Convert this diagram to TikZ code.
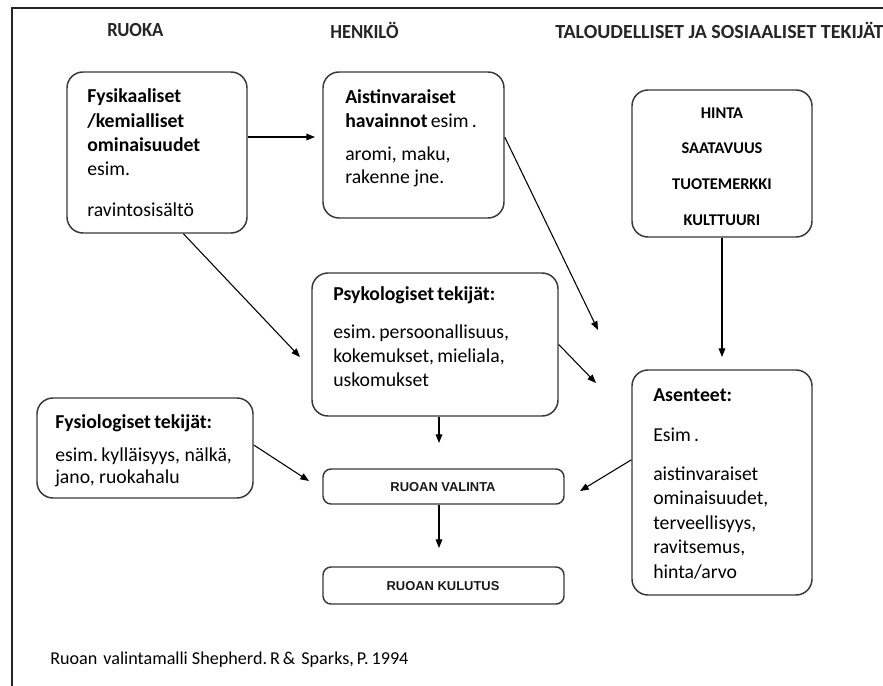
\documentclass[tikz,border=0pt]{standalone}
\usepackage{fontspec}
\setmainfont{Carlito}
\newfontfamily\arialf{Liberation Sans}
\usetikzlibrary{arrows.meta,fit}
\tikzset{
  box/.style={draw=black!78, line width=1.1pt, rounded corners=12pt, inner sep=0pt, fill=white},
  arr/.style={draw=black, line width=0.8pt, -{Triangle[length=6.5pt,width=5pt]}},
  txt/.style={anchor=west, inner sep=0pt, font=\fontsize{14.8}{18}\selectfont, text=black},
  btxt/.style={txt, font=\fontsize{14.8}{18}\selectfont\bfseries},
  head/.style={anchor=west, inner sep=0pt, font=\fontsize{15}{17}\selectfont\bfseries, text=black!85},
  ctxt/.style={inner sep=0pt, font=\fontsize{12.3}{15}\selectfont\bfseries, text=black},
  atxt/.style={inner sep=0pt, font=\arialf\fontsize{9.7}{12}\selectfont\bfseries, text=black!90}
}
\begin{document}
\frenchspacing
\begin{tikzpicture}[x=0.75pt,y=-0.75pt]
\useasboundingbox (0,0) rectangle (883,686);
\clip (0,0) rectangle (883,686);
\fill[white] (0,0) rectangle (883,686);
\draw[line width=1.3pt, black!85] (12,690) -- (12,8) -- (890,8);

% headers
\node[head] (h1) at (107,30) {\scalebox{0.93}[1]{RUOKA}};
\node[head] (h2) at (330,30) {\scalebox{0.93}[1]{HENKILÖ}};
\node[head] (h3) at (555,30) {TALOUDELLISET JA SOSIAALISET TEKIJÄT};

% boxes
\node[box, fit={(67,72) (247,233)}] (b1) {};
\node[box, fit={(323,72) (504,218)}] (b2) {};
\node[box, fit={(632,90) (812,237)}] (b3) {};
\node[box, fit={(312,273) (558,416)}] (psy) {};
\node[box, fit={(632,370) (812,595)}] (ase) {};
\node[box, fit={(37,398) (253,498)}] (fys) {};
\node[box, rounded corners=6pt, fit={(323,469) (564,504)}] (val) {};
\node[box, rounded corners=6pt, fit={(323,567) (564,604)}] (kul) {};

% box 1 text
\node[btxt] (t11) at (87,97) {Fysikaaliset};
\node[btxt] (t12) at (87,121) {/kemialliset};
\node[btxt] (t13) at (87,145) {ominaisuudet};
\node[txt] (t14) at (87,169) {esim.};
\node[txt] (t15) at (87,210) {ravintosisältö};

% box 2 text
\node[btxt] (t21) at (345,97) {Aistinvaraiset};
\node[txt] (t22) at (345,121) {\textbf{havainnot}\,esim\,.};
\node[txt] (t23) at (345,155) {aromi, maku,};
\node[txt] (t24) at (345,178) {rakenne jne.};

% box 3 text
\node[ctxt] (t31) at (722,113) {HINTA};
\node[ctxt] (t32) at (722,148) {SAATAVUUS};
\node[ctxt] (t33) at (722,184) {TUOTEMERKKI};
\node[ctxt] (t34) at (722,220) {KULTTUURI};

% psykologiset
\node[btxt] (t41) at (333,295) {Psykologiset\,tekijät:};
\node[txt] (t42) at (333,333) {esim.\,persoonallisuus,};
\node[txt] (t43) at (333,357) {kokemukset,\,mieliala,};
\node[txt] (t44) at (333,380) {uskomukset};

% asenteet
\node[btxt] (t51) at (653,395) {Asenteet:};
\node[txt] (t52) at (653,435) {Esim\,.};
\node[txt] (t53) at (653,474) {aistinvaraiset};
\node[txt] (t54) at (653,499) {ominaisuudet,};
\node[txt] (t55) at (653,524) {terveellisyys,};
\node[txt] (t56) at (653,548) {ravitsemus,};
\node[txt] (t57) at (653,572) {hinta/arvo};

% fysiologiset
\node[btxt] (t61) at (55,423) {Fysiologiset\,tekijät:};
\node[txt] (t62) at (55,456) {esim.\,kylläisyys, nälkä,};
\node[txt] (t63) at (55,478) {jano, ruokahalu};

% small boxes text
\node[atxt] (t71) at (443,487) {RUOAN VALINTA};
\node[atxt] (t72) at (443,586) {RUOAN KULUTUS};

% citation
\node[anchor=west, inner sep=0pt, font=\fontsize{13.6}{16}\selectfont, text=black] (cit) at (50,660) {Ruoan\,\,valintamalli Shepherd.\,R\,\&\,\,Sparks,\,P.\,1994};

% arrow tips (free ends)
\coordinate (e12) at (315,137);
\coordinate (e1p) at (300,357);
\coordinate (e2a) at (598,330);
\coordinate (e3a) at (722,357);
\coordinate (epa) at (596,383);
\coordinate (epv) at (439,443);
\coordinate (efv) at (309,481);
\coordinate (eav) at (580,491);
\coordinate (evk) at (439,548);
\coordinate (sfy) at (253,445);

% connectors
\draw[arr] (b1.east |- e12) -- (e12);
\draw[arr] (b1.-72) -- (e1p);
\draw[arr] (b2.5) -- (e2a);
\draw[arr] (b3.south) -- (e3a);
\draw[arr] (psy.east) -- (epa);
\draw[arr] (psy.south -| epv) -- (epv);
\draw[arr] (fys.east |- sfy) -- (efv);
\draw[arr] (ase.166) -- (eav);
\draw[arr] (val.south -| evk) -- (evk);
\end{tikzpicture}
\end{document}
